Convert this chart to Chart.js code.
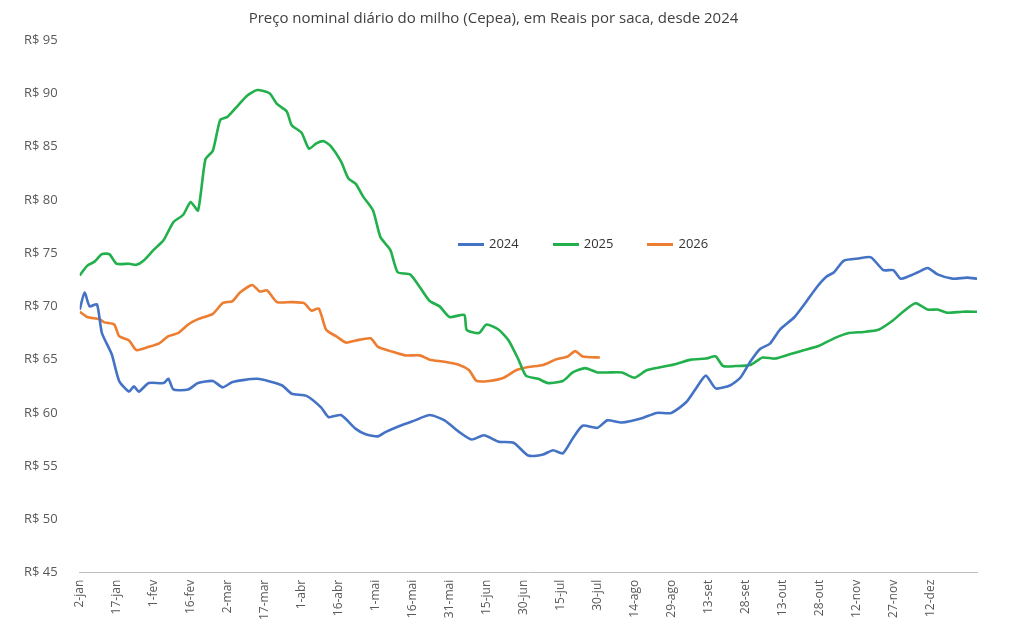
<!DOCTYPE html>
<html><head><meta charset="utf-8">
<script src="https://cdn.jsdelivr.net/npm/chart.js@4.4.1/dist/chart.umd.min.js"></script>
<style>
body{margin:0;background:#fff;font-family:Calibri,Carlito,"Open Sans",sans-serif}
#wrap{position:relative;width:1011px;height:629px}
#legend{position:absolute;left:458px;top:234px;font:13px "Open Sans",sans-serif;color:#333}
#legend span{display:inline-block;margin-right:34px}
#legend i{display:inline-block;width:26px;height:3px;vertical-align:middle;margin-right:5px}
</style></head><body>
<div id="wrap"><canvas id="c" width="1011" height="629"></canvas>
<div id="legend"><span><i style="background:#4472c4"></i>2024</span><span><i style="background:#21b04b"></i>2025</span><span><i style="background:#ed7d31"></i>2026</span></div></div>
<script>
var tickLabels = ['2-jan','17-jan','1-fev','16-fev','2-mar','17-mar','1-abr','16-abr','1-mai','16-mai','31-mai','15-jun','30-jun','15-jul','30-jul','14-ago','29-ago','13-set','28-set','13-out','28-out','12-nov','27-nov','12-dez','27-dez'];

var days2024 = [0,2,4,7,9,13,16,20,22,24,28,34,36,38,44,48,54,58,62,72,82,86,92,98,101,106,112,116,121,124,130,136,142,148,154,159,164,170,176,182,188,192,196,200,204,210,214,220,228,234,240,246,250,254,258,264,268,272,276,280,284,290,294,299,303,306,310,316,321,326,330,333,336,340,344,348,354,360,364];
var vals2024 = [69.7,71.3,70,70.2,67.5,65.5,63,62,62.5,62,62.8,62.8,63.2,62.2,62.2,62.8,63,62.4,62.9,63.2,62.6,61.8,61.6,60.5,59.6,59.8,58.5,58,57.8,58.2,58.8,59.3,59.8,59.3,58.2,57.5,57.9,57.3,57.2,56,56.1,56.5,56.2,57.6,58.8,58.6,59.3,59.1,59.5,60,60,61,62.3,63.5,62.3,62.6,63.3,64.8,66,66.5,67.8,69,70.2,71.8,72.8,73.2,74.3,74.5,74.6,73.4,73.4,72.6,72.8,73.2,73.6,73,72.6,72.7,72.6];

var days2025 = [0,3,6,9,12,15,20,23,26,30,34,38,42,45,48,51,54,57,60,64,68,72,77,80,84,86,90,93,96,99,102,106,109,112,115,119,122,126,129,134,138,142,146,150,156,157,162,165,170,174,178,181,186,190,196,200,205,210,214,220,225,230,236,242,248,254,258,261,266,272,277,282,288,294,300,306,312,318,324,330,334,339,344,348,352,358,364];
var vals2025 = [72.9,73.8,74.2,74.9,74.9,74,74,73.9,74.3,75.3,76.2,77.9,78.6,79.8,79,83.8,84.6,87.5,87.8,88.8,89.8,90.3,90,89,88.3,87,86.3,84.8,85.3,85.5,85,83.6,82,81.5,80.3,79,76.5,75.3,73.2,73,71.8,70.5,70,69,69.2,67.8,67.5,68.3,67.8,66.8,65,63.5,63.2,62.8,63,63.8,64.2,63.8,63.8,63.8,63.3,64,64.3,64.6,65,65.1,65.3,64.4,64.4,64.5,65.2,65.1,65.5,65.9,66.3,67,67.5,67.6,67.8,68.7,69.5,70.3,69.7,69.7,69.4,69.5,69.5];

var days2026 = [0,3,8,10,14,16,20,23,28,32,36,40,44,48,54,58,62,65,70,73,76,80,86,91,94,97,100,104,108,112,118,121,126,132,138,142,148,154,158,161,166,172,177,182,188,193,198,201,204,211];
var vals2026 = [69.5,69,68.8,68.5,68.3,67.2,66.8,65.9,66.2,66.5,67.2,67.5,68.3,68.8,69.3,70.3,70.5,71.3,72,71.4,71.5,70.4,70.4,70.3,69.6,69.8,67.8,67.2,66.6,66.8,67,66.2,65.8,65.4,65.4,65,64.8,64.5,64,63,63,63.3,64,64.3,64.5,65,65.3,65.8,65.3,65.2];

function pts(d, v) { return d.map(function (x, i) { return { x: x, y: v[i] }; }); }
function ds(label, d, v, color) {
    return { label: label, data: pts(d, v), borderColor: color, borderWidth: 2.6, pointRadius: 0, tension: 0.2 };
}

new Chart(document.getElementById('c'), {
    type: 'line',
    data: { datasets: [
        ds('2024', days2024, vals2024, '#4472c4'),
        ds('2025', days2025, vals2025, '#21b04b'),
        ds('2026', days2026, vals2026, '#ed7d31')
    ] },
    options: {
        responsive: false,
        animation: false,
        layout: { padding: { top: 10, right: 34, left: 10, bottom: 6 } },
        plugins: {
            legend: { display: false },
            title: { display: true, text: 'Preço nominal diário do milho (Cepea), em Reais por saca, desde 2024',
                color: '#404040', font: { size: 15, family: 'Open Sans', weight: 'normal' }, padding: { bottom: 12 } }
        },
        scales: {
            x: {
                type: 'linear', min: 0, max: 364,
                grid: { display: false, drawTicks: true, tickLength: 4 },
                border: { color: '#bfbfbf' },
                ticks: { stepSize: 15, minRotation: 90, maxRotation: 90, color: '#595959',
                    font: { size: 12, family: 'Open Sans' },
                    callback: function (v) { return tickLabels[v / 15]; } }
            },
            y: {
                min: 45, max: 95,
                grid: { display: false },
                border: { display: false },
                ticks: { stepSize: 5, color: '#595959', padding: 14,
                    font: { size: 13, family: 'Open Sans' },
                    callback: function (v) { return 'R$ ' + v; } }
            }
        }
    }
});
</script>
</body></html>
